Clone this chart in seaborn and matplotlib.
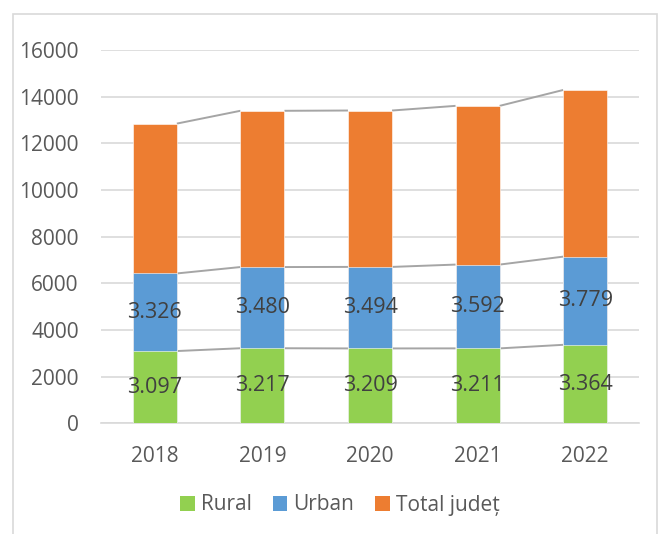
import matplotlib
matplotlib.use("Agg")
import matplotlib.pyplot as plt
from matplotlib.patches import Rectangle, Patch
import numpy as np
import pandas as pd
import seaborn as sns

years = ["2018", "2019", "2020", "2021", "2022"]
rural = [3097, 3217, 3209, 3211, 3364]
urban = [3326, 3480, 3494, 3592, 3779]
total = [r + u for r, u in zip(rural, urban)]

series_names = ["Rural", "Urban", "Total județ"]
colors = ["#92D050", "#5B9BD5", "#ED7D31"]

sns.set_theme(style="white")
plt.rcParams["font.family"] = ["Open Sans", "DejaVu Sans"]

df = pd.DataFrame({"year": years, "rural": rural, "urban": urban, "total": total})
df["c_rural"] = df["rural"]
df["c_urban"] = df["rural"] + df["urban"]
df["c_total"] = df["c_urban"] + df["total"]

fig = plt.figure(figsize=(6.64, 5.34), dpi=100)
ax = fig.add_axes([101 / 664, 1 - 423.3 / 534, 538 / 664, (423.3 - 50) / 534])

bar_w = 0.41
# stacked bars drawn from the tallest cumulative layer down
for col, color in zip(["c_total", "c_urban", "c_rural"], colors[::-1]):
    sns.barplot(data=df, x="year", y=col, color=color, width=bar_w,
                saturation=1, edgecolor="white", linewidth=0.4, ax=ax, zorder=3)

# series lines joining the tops of each segment
xs = np.arange(len(years))
for col in ["c_rural", "c_urban", "c_total"]:
    vals = df[col].to_numpy()
    for i in range(len(years) - 1):
        ax.plot([xs[i] + bar_w / 2, xs[i + 1] - bar_w / 2], [vals[i], vals[i + 1]],
                color="#A5A5A5", lw=1.4, zorder=2, solid_capstyle="butt")

def fmt(v):
    return f"{v:,}".replace(",", ".")

label_kw = dict(ha="center", va="center", fontsize=15.5, color="#404040", zorder=5)
for i in range(len(years)):
    ax.text(xs[i], rural[i] / 2, fmt(rural[i]), **label_kw)
    ax.text(xs[i], rural[i] + urban[i] / 2, fmt(urban[i]), **label_kw)

ax.set_ylim(0, 16000)
ax.set_xlim(-0.5, len(years) - 0.5)
ax.set_yticks(range(0, 16001, 2000))
ax.set_yticklabels([str(v) for v in range(0, 16001, 2000)])
ax.yaxis.grid(True, color="#D9D9D9", lw=1.2, zorder=0)
ax.set_axisbelow(True)
for s in ["left", "right", "top"]:
    ax.spines[s].set_visible(False)
ax.spines["bottom"].set_color("#D9D9D9")
ax.spines["bottom"].set_linewidth(1.2)
ax.tick_params(axis="y", length=0, pad=16, labelsize=15, labelcolor="#595959")
ax.tick_params(axis="x", length=0, pad=16, labelsize=15, labelcolor="#595959")
ax.set_xlabel("")
ax.set_ylabel("")

handles = [Patch(facecolor=c, edgecolor="none") for c in colors]
fig.legend(handles, series_names, loc="center", bbox_to_anchor=(340 / 664, 1 - 505 / 534),
           ncol=3, frameon=False, fontsize=15, labelcolor="#595959",
           handlelength=0.7, handleheight=0.7, handletextpad=0.3, columnspacing=1.0)

# chart area border
fig.patches.append(Rectangle((13 / 664, -0.02), 644 / 664, 1 - 14 / 534 + 0.02,
                             transform=fig.transFigure, fill=False,
                             edgecolor="#D9D9D9", lw=1.2))

fig.savefig("out.png", dpi=100)
